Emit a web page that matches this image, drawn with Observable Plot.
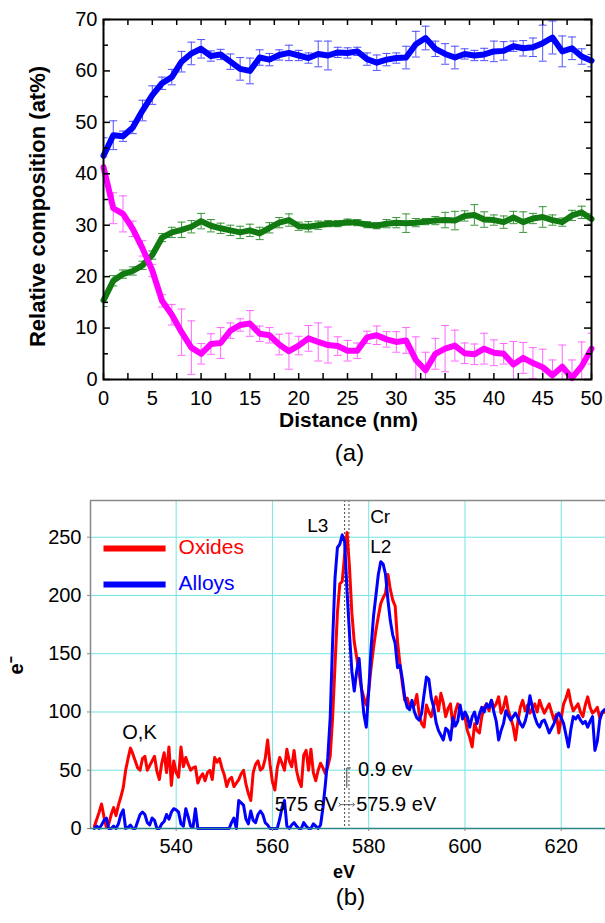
<!DOCTYPE html>
<html><head><meta charset="utf-8">
<script src="https://cdn.jsdelivr.net/npm/d3@7"></script>
<script src="https://cdn.jsdelivr.net/npm/@observablehq/plot@0.6"></script>
<style>
body{margin:0;background:#fff;}
#chart svg{display:block;}
</style></head><body><div id="chart"></div>
<script>
const FONT = '"Liberation Sans", Arial, Helvetica, sans-serif';

// ---------- Panel (a) data ----------
const distance = [0,1,2,3,4,5,6,7,8,9,10,11,12,13,14,15,16,17,18,19,20,21,22,23,24,25,26,27,28,29,30,31,32,33,34,35,36,37,38,39,40,41,42,43,44,45,46,47,48,49,50];
const blueComposition = [43.5,47.5,47.3,49.0,52.3,55.3,57.6,58.8,61.8,63.4,64.3,62.9,63.2,61.8,60.4,60.0,62.6,62.2,63.1,63.5,63.0,62.5,63.3,63.0,63.6,63.5,63.8,62.3,61.6,62.2,62.5,62.6,65.2,66.4,64.3,63.3,62.6,63.3,63.0,63.2,63.8,63.9,64.8,64.4,64.6,65.4,66.5,63.8,64.4,62.8,62.0];
const blueError = [3.5,2.8,1.0,1.2,2.0,1.8,1.2,1.5,2.0,2.2,1.8,1.0,1.0,1.5,2.2,2.5,1.5,1.2,1.0,1.5,1.0,1.0,2.5,2.8,1.0,1.0,0.8,1.2,1.5,1.2,1.0,2.2,2.5,2.3,1.5,2.0,2.2,1.0,1.0,1.2,2.0,1.8,1.0,1.5,1.8,3.5,3.2,3.0,2.2,1.5,1.2];
const greenComposition = [15.4,19.2,20.5,21.1,22.2,24.2,27.6,28.6,29.1,29.7,30.8,29.9,29.4,29.0,28.6,29.0,28.4,29.5,30.5,31.0,29.8,29.7,30.0,30.3,30.3,30.6,30.5,30.1,29.9,30.3,30.5,30.4,30.5,30.7,30.9,31.0,30.9,31.8,32.0,31.1,31.0,30.6,31.5,30.6,31.3,31.6,31.0,30.6,31.9,32.5,31.2];
const greenError = [1.2,1.0,0.8,0.8,0.8,0.8,0.8,1.0,1.5,1.2,1.5,1.2,1.0,1.0,1.2,1.2,1.2,1.0,1.0,1.2,0.8,1.0,0.8,0.6,0.6,0.6,0.6,0.6,0.6,0.8,1.0,1.8,0.8,0.6,0.8,1.5,1.8,1.0,2.0,1.5,1.0,1.2,1.2,2.0,1.0,2.0,1.0,0.8,1.0,1.2,1.0];
const magentaComposition = [41.3,33.3,32.2,29.3,25.5,21.2,15.3,12.6,9.2,6.2,5.0,6.9,7.1,9.5,10.6,10.9,8.9,8.6,6.8,5.5,6.6,8.0,7.3,6.7,6.5,5.6,5.6,8.2,8.6,7.8,7.3,7.6,3.8,1.8,5.0,6.0,6.6,5.1,4.9,6.0,5.2,5.0,2.9,4.2,3.2,2.4,0.8,2.5,0.3,2.6,6.0];
const magentaError = [2.0,3.0,3.5,1.5,1.5,1.2,1.2,2.0,4.5,5.2,2.0,2.0,3.0,1.5,1.2,2.5,1.5,1.5,2.0,3.5,1.8,2.5,3.7,3.5,1.8,2.0,1.5,1.2,1.8,1.5,2.0,2.5,4.5,3.5,3.0,4.5,3.0,2.0,2.0,3.0,2.5,2.0,4.5,3.0,3.0,3.5,3.0,4.2,3.5,4.7,3.0];
const xTicksA = [0,5,10,15,20,25,30,35,40,45,50];
const xMinorTicksA = [2.5,7.5,12.5,17.5,22.5,27.5,32.5,37.5,42.5,47.5];
const yTicksA = [0,10,20,30,40,50,60,70];
const yMinorTicksA = [5,15,25,35,45,55,65];

// ---------- Panel (b) data ----------
const energy = [
523,523.5,524,524.5,525,525.5,526,526.5,527,527.5,528,528.5,529,529.5,530,530.5,531,531.5,532,532.5,
533,533.5,534,534.5,535,535.5,536,536.5,537,537.5,538,538.5,539,539.5,540,540.5,541,541.5,542,542.5,
543,543.5,544,544.5,545,545.5,546,546.5,547,547.5,548,548.5,549,549.5,550,550.5,551,551.5,552,552.5,
553,553.5,554,554.5,555,555.5,556,556.5,557,557.5,558,558.5,559,559.5,560,560.5,561,561.5,562,562.5,
563,563.5,564,564.5,565,565.5,566,566.5,567,567.5,568,568.5,569,569.5,570,570.5,571,571.5,572,572.5,
573,573.5,574,574.5,575,575.5,576,576.5,577,577.5,578,578.5,579,579.5,580,580.5,581,581.5,582,582.5,
583,583.5,584,584.5,585,585.5,586,586.5,587,587.5,588,588.5,589,589.5,590,590.5,591,591.5,592,592.5,
593,593.5,594,594.5,595,595.5,596,596.5,597,597.5,598,598.5,599,599.5,600,600.5,601,601.5,602,602.5,
603,603.5,604,604.5,605,605.5,606,606.5,607,607.5,608,608.5,609,609.5,610,610.5,611,611.5,612,612.5,
613,613.5,614,614.5,615,615.5,616,616.5,617,617.5,618,618.5,619,619.5,620,620.5,621,621.5,622,622.5,
623,623.5,624,624.5,625,625.5,626,626.5,627,627.5,628,628.5,629];
const oxides = [
2,8,14,21,10,1,4,12,18,11,20,27,35,50,60,69,64,58,52,50,
60,62,50,54,58,62,49,42,56,65,48,70,37,58,48,44,70,53,61,55,
50,52,53,39,44,47,41,48,50,42,61,57,60,52,46,36,42,44,36,39,
42,47,50,38,30,24,48,55,58,50,52,60,76,55,40,33,52,61,56,50,
68,58,53,67,50,41,36,63,67,50,68,48,41,50,56,52,47,53,62,95,
140,185,210,212,235,254,225,185,160,147,133,120,112,106,118,138,155,170,182,193,
198,202,218,205,196,191,160,141,124,110,112,104,108,106,115,98,90,87,106,100,
96,105,113,101,116,108,96,103,107,87,100,107,101,98,96,84,78,70,90,84,
82,96,104,107,101,110,104,107,113,99,104,113,101,95,88,76,92,104,110,101,
106,99,103,107,100,110,104,99,103,107,100,93,98,82,95,107,112,119,108,101,
104,107,100,96,106,113,104,99,101,104,95,99,100];
const alloys = [
0,2,0,3,7,9,0,0,2,0,4,12,16,0,1,3,0,0,6,12,
14,12,5,3,9,7,0,0,4,6,12,8,14,17,16,14,4,2,17,10,
2,1,17,0,0,0,0,0,0,0,0,0,0,0,0,0,0,5,9,0,
24,22,20,8,4,15,7,5,12,15,12,5,3,0,0,0,0,8,18,24,
2,0,3,5,2,0,0,5,2,0,0,4,2,0,3,18,38,61,95,160,
215,241,244,252,246,204,168,135,118,135,146,120,98,87,118,155,182,200,218,229,
227,218,196,178,166,159,138,140,128,112,104,102,110,100,95,93,99,115,130,128,
112,104,91,84,80,76,86,84,76,95,88,92,106,94,100,96,87,96,100,90,
98,104,100,107,104,110,100,92,76,84,90,101,97,93,96,99,95,90,87,92,
100,114,104,96,90,87,92,93,88,82,86,90,96,99,95,90,80,70,85,96,
94,97,93,90,92,87,92,96,67,75,93,100,102];
const gridEnergies = [540,560,580,600,620];
const yTicksB = [0,50,100,150,200,250];
const edgeEnergies = [575, 575.9];

// ---------- Panel (a) ----------
const capSymbol = {draw(ctx, size){ const r = Math.sqrt(size/Math.PI); ctx.moveTo(-r,0); ctx.lineTo(r,0); }};
const seriesA = [
  {values: greenComposition, errors: greenError, line: "#117a11", bar: "#3a963a"},
  {values: magentaComposition, errors: magentaError, line: "#ff00ff", bar: "#ff66ff"},
  {values: blueComposition, errors: blueError, line: "#0000ff", bar: "#5050ff"}
];
const rowsOf = s => distance.map((d,i) => ({d, v: s.values[i], e: s.errors[i]}));
const errMarks = [], lineMarks = [];
for (const s of seriesA) {
  const rows = rowsOf(s);
  errMarks.push(
    Plot.ruleX(rows, {x: "d", y1: r => r.v - r.e, y2: r => r.v + r.e, stroke: s.bar, strokeWidth: 1, clip: true}),
    Plot.dot(rows, {x: "d", y: r => r.v + r.e, symbol: capSymbol, r: 4, fill: "none", stroke: s.bar, strokeWidth: 1, clip: true}),
    Plot.dot(rows, {x: "d", y: r => r.v - r.e, symbol: capSymbol, r: 4, fill: "none", stroke: s.bar, strokeWidth: 1, clip: true})
  );
  lineMarks.push(Plot.line(rows, {x: "d", y: "v", stroke: s.line, strokeWidth: 6, strokeLinejoin: "round", strokeLinecap: "round"}));
}
const FH = 360, FW = 488;
const allXTicksA = xTicksA.concat(xMinorTicksA);
const chartA = Plot.plot({
  width: 605, height: 475,
  marginTop: 19, marginBottom: 96, marginLeft: 103, marginRight: 14,
  style: {fontFamily: FONT, fontSize: "20px", color: "black", background: "white"},
  x: {domain: [0, 50]},
  y: {domain: [0, 70]},
  marks: [
    ...errMarks,
    ...lineMarks,
    Plot.tickX(allXTicksA, {insetTop: FH - 6, stroke: "black", strokeWidth: 1.5}),
    Plot.tickX(allXTicksA, {insetBottom: FH - 6, stroke: "black", strokeWidth: 1.5}),
    Plot.tickY(yTicksA, {insetRight: FW - 7, stroke: "black", strokeWidth: 1.5}),
    Plot.tickY(yTicksA, {insetLeft: FW - 7, stroke: "black", strokeWidth: 1.5}),
    Plot.tickY(yMinorTicksA, {insetRight: FW - 5, stroke: "black", strokeWidth: 1.5}),
    Plot.tickY(yMinorTicksA, {insetLeft: FW - 5, stroke: "black", strokeWidth: 1.5}),
    Plot.frame({stroke: "black", strokeWidth: 2}),
    Plot.axisX({ticks: xTicksA, tickSize: 0, tickPadding: 11, label: null, fontSize: 20}),
    Plot.axisY({ticks: yTicksA, tickSize: 0, tickPadding: 6, label: null, fontSize: 20}),
    Plot.text(["Distance (nm)"], {frameAnchor: "bottom", dy: 47.5, dx: 1, fontWeight: "bold", fontSize: 21}),
    Plot.text(["(a)"], {frameAnchor: "bottom", dy: 81.5, dx: 2, fontSize: 24}),
    Plot.text(["Relative composition (at%)"], {frameAnchor: "left", textAnchor: "middle", lineAnchor: "middle", dx: -65.5, dy: 7, rotate: -90, fontWeight: "bold", fontSize: 22})
  ]
});

// ---------- Panel (b) ----------
const redRows = energy.map((e,i) => ({e, v: oxides[i]}));
const blueRows = energy.map((e,i) => ({e, v: alloys[i]}));
const XMIN = 522.2, YMAX = 281.5;
const ANN = "#444";
const chartB = Plot.plot({
  width: 605, height: 448,
  marginTop: 25, marginBottom: 95, marginLeft: 90, marginRight: 0,
  style: {fontFamily: FONT, fontSize: "20px", color: "black", background: "white"},
  x: {domain: [XMIN, 629.2]},
  y: {domain: [0, YMAX]},
  marks: [
    Plot.ruleX(gridEnergies, {stroke: "#74e4e4", strokeWidth: 1}),
    Plot.ruleY(yTicksB.slice(1), {stroke: "#74e4e4", strokeWidth: 1}),
    Plot.ruleX(edgeEnergies, {stroke: ANN, strokeWidth: 1, strokeDasharray: "2,2"}),
    Plot.line(redRows, {x: "e", y: "v", stroke: "#ff0000", strokeWidth: 3, strokeLinejoin: "round"}),
    Plot.line(blueRows, {x: "e", y: "v", stroke: "#0000ff", strokeWidth: 3, strokeLinejoin: "round"}),
    Plot.ruleX([XMIN], {stroke: "#888", strokeWidth: 1.5}),
    Plot.ruleY([YMAX], {stroke: "#888", strokeWidth: 1.5}),
    Plot.ruleY([0], {stroke: "#2d8585", strokeWidth: 1.5}),
    Plot.axisX({ticks: gridEnergies, tickSize: 3, tickPadding: 7.5, stroke: "#888", fill: "black", label: null, fontSize: 20}),
    Plot.axisY({ticks: yTicksB, tickSize: 3, tickPadding: 6, stroke: "#888", fill: "black", label: null, fontSize: 20}),
    // legend
    Plot.link(["Oxides"], {x1: 524.9, x2: 537.8, y1: 240.4, y2: 240.4, stroke: "#ff0000", strokeWidth: 6}),
    Plot.link(["Alloys"], {x1: 524.9, x2: 537.8, y1: 209.5, y2: 209.5, stroke: "#0000ff", strokeWidth: 6}),
    Plot.text(["Oxides"], {x: 540.5, y: 241.6, textAnchor: "start", fill: "#ff0000", fontSize: 21}),
    Plot.text(["Alloys"], {x: 540.5, y: 210.1, textAnchor: "start", fill: "#0000ff", fontSize: 21}),
    // peak labels
    Plot.text(["L3"], {x: 571.6, y: 259.3, textAnchor: "end", fontSize: 19}),
    Plot.text(["Cr"], {x: 580.3, y: 267.1, textAnchor: "start", fontSize: 19}),
    Plot.text(["L2"], {x: 580.3, y: 241.6, textAnchor: "start", fontSize: 19}),
    Plot.text(["O,K"], {x: 528.8, y: 82.7, textAnchor: "start", fontSize: 20}),
    // shift annotation
    Plot.link([0], {x1: 575.45, x2: 575.45, y1: 35, y2: 52, stroke: ANN, strokeWidth: 1}),
    Plot.link([0], {x1: 575.45, x2: 576.3, y1: 52, y2: 52, stroke: ANN, strokeWidth: 1}),
    Plot.link([0], {x1: 574.0, x2: 576.9, y1: 20.5, y2: 20.5, stroke: ANN, strokeWidth: 0.8, markerStart: "arrow", markerEnd: "arrow"}),
    Plot.text(["0.9 ev"], {x: 577.8, y: 50.3, textAnchor: "start", fontSize: 20}),
    Plot.text(["575 eV"], {x: 573.65, y: 20.3, textAnchor: "end", fontSize: 20}),
    Plot.text(["575.9 eV"], {x: 577.4, y: 20.3, textAnchor: "start", fontSize: 20}),
    // titles
    Plot.text(["eV"], {frameAnchor: "bottom", dy: 49.2, dx: -4, fontWeight: "bold", fontSize: 18}),
    Plot.text(["(b)"], {frameAnchor: "bottom", dy: 76.3, dx: 2.5, fontSize: 24}),
    Plot.text(["e\u207B"], {frameAnchor: "left", textAnchor: "middle", lineAnchor: "middle", dx: -73.5, dy: 1, rotate: -90, fontWeight: "bold", fontSize: 20})
  ]
});

const host = document.getElementById("chart");
host.append(chartA, chartB);
</script>
</body></html>
